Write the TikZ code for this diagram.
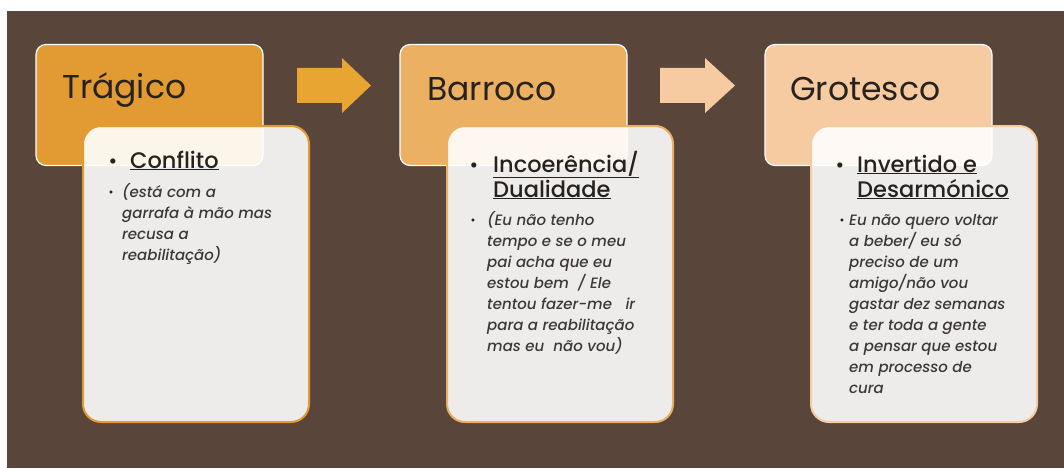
\documentclass[tikz,border=0pt]{standalone}
\usepackage{fontspec}
\setmainfont{Poppins}
\newfontfamily\corpo{Poppins}[UprightFont={* Medium}, ItalicFont={* Medium Italic}]
\usetikzlibrary{positioning}

\definecolor{fundo}{RGB}{89,69,58}
\definecolor{laranjaA}{RGB}{225,155,50}
\definecolor{laranjaB}{RGB}{236,176,99}
\definecolor{laranjaC}{RGB}{246,203,161}
\definecolor{setaA}{RGB}{232,165,50}
\definecolor{tinta}{RGB}{40,34,30}
\definecolor{tintaclara}{RGB}{60,56,54}

\tikzset{
  estagio/.style={draw=white, line width=1.2pt, rounded corners=10pt,
    minimum width=227pt, minimum height=121pt, inner sep=0pt},
  cartao/.style={line width=2pt, rounded corners=18pt, fill=white, fill opacity=0.9,
    minimum width=226pt, minimum height=296pt, inner sep=0pt},
  titulo/.style={anchor=base west, inner sep=0pt, text=tinta,
    font=\fontsize{33}{38}\selectfont},
  marca/.style={anchor=base, inner sep=0pt, text=tinta},
  topico/.style={anchor=base west, inner sep=0pt, align=left, text=tinta,
    font=\corpo\fontsize{22.5}{25}\selectfont},
  texto/.style={anchor=base west, inner sep=0pt, align=left, text=tintaclara,
    font=\corpo\itshape\fontsize{15}{21}\selectfont},
}

\begin{document}
\begin{tikzpicture}[x=1pt, y=-1pt]
\useasboundingbox (0,0) rectangle (1064,468);
\fill[white] (0,0) rectangle (1064,468);
\fill[fundo] (7,11) rectangle (1064,468);

% etapas
\node[estagio, fill=laranjaA] (tragico) at (149.5,105) {};
\node[estagio, fill=laranjaB] (barroco) at (513.5,105) {};
\node[estagio, fill=laranjaC] (grotesco) at (878.5,105) {};

\node[titulo] (tTragico) at (62,99) {Trágico};
\node[titulo] (tBarroco) at (427,100) {Barroco};
\node[titulo] (tGrotesco) at (790,100) {Grotesco};

% setas
\fill[setaA] (297,68) -- (342,68) -- (342,58) -- (371,85.5) -- (342,113) -- (342,103) -- (297,103) -- cycle;
\fill[laranjaC] (660,68) -- (705,68) -- (705,58) -- (735,85.5) -- (705,113) -- (705,103) -- (660,103) -- cycle;

% cartoes
\node[cartao, draw=laranjaA] (cConflito) at (196,274) {};
\node[cartao, draw=laranjaB] (cIncoerencia) at (560,274) {};
\node[cartao, draw=laranjaC] (cInvertido) at (924,274) {};

% (base = ultima linha)
\node[marca, font=\fontsize{21}{25}\selectfont] (m1) at (113,168) {•};
\node[topico] (h1) at (130,168) {\underline{Conflito}};
\node[marca, font=\fontsize{12}{21}\selectfont] (s1) at (111,196) {•};
\node[texto] (x1) at (122,260) {(está com a\\garrafa à mão mas\\recusa a\\reabilitação)};

\node[marca, font=\fontsize{21}{25}\selectfont] (m2) at (474,172) {•};
\node[topico] (h2) at (493,197) {\underline{Incoerência/}\\\underline{Dualidade}};
\node[marca, font=\fontsize{12}{21}\selectfont] (s2) at (473,224) {•};
\node[texto] (x2) at (487,351) {(Eu não tenho\\tempo e se o meu\\pai acha que eu\\estou bem \ / Ele\\tentou fazer-me \ \ ir\\para a reabilitação\\mas eu \ não vou)};

\node[marca, font=\fontsize{21}{25}\selectfont] (m3) at (840,172) {•};
\node[topico] (h3) at (857,197) {\underline{Invertido e}\\\underline{Desarmónico}};
\node[marca, font=\fontsize{12}{21}\selectfont] (s3) at (842,224) {•};
\node[texto] (x3) at (849,393) {Eu não quero voltar\\a beber/ eu só\\preciso de um\\amigo/não vou\\gastar dez semanas\\e ter toda a gente\\a pensar que estou\\em processo de\\cura};
\end{tikzpicture}
\end{document}
